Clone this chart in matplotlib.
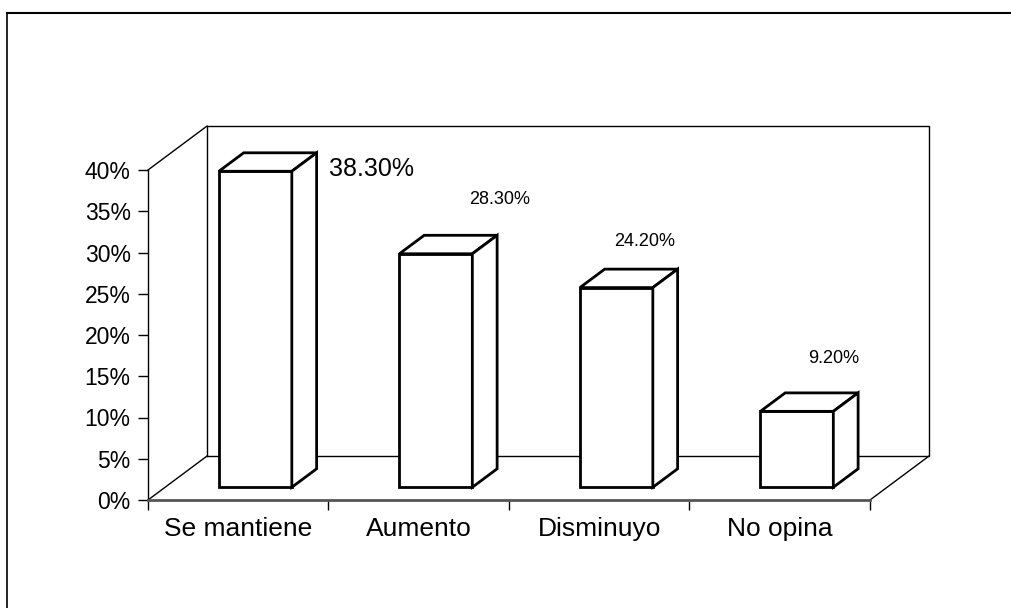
import matplotlib
matplotlib.use("Agg")
import matplotlib.pyplot as plt
from matplotlib.patches import Polygon
from matplotlib.lines import Line2D

# ---- data ----
categories = ["Se mantiene", "Aumento", "Disminuyo", "No opina"]
values = [38.3, 28.3, 24.2, 9.2]
value_labels = ["38.30%", "28.30%", "24.20%", "9.20%"]
y_ticks = [0, 5, 10, 15, 20, 25, 30, 35, 40]

# ---- layout / style (not data) ----
W, H = 1012, 608
DX, DY = 0.327, 5.33          # full depth offset of the 3-D box (data units)
F1, F2 = 0.29, 0.71           # bar front / back depth fractions
BAR_W = 0.404
label_offsets = [(0.74, 1.8), (0.45, 8.1), (0.25, 7.1), (0.30, 8.0)]
label_sizes = [18, 13, 13, 13]
FONT = "Liberation Sans"

plt.rcParams['font.family'] = [FONT, 'DejaVu Sans']

fig = plt.figure(figsize=(W / 100, H / 100), dpi=100)
ax = fig.add_axes([148 / W, 1 - 500 / H, (870 - 148) / W, (500 - 170) / H])
ax.set_xlim(0, len(categories))
ax.set_ylim(0, 40)
ax.patch.set_alpha(0)

n = len(categories)
ymax = y_ticks[-1]
lw_wall = 1.0
kw = dict(color="black", lw=lw_wall, clip_on=False, zorder=1)
# back wall
ax.plot([DX, DX, n + DX, n + DX, DX], [DY, ymax + DY, ymax + DY, DY, DY], **kw)
# side wall / floor diagonals
ax.plot([0, DX], [ymax, ymax + DY], **kw)
ax.plot([0, DX], [0, DY], **kw)
ax.plot([n, n + DX], [0, DY], **kw)

# bars
centers = [i + 0.5 for i in range(n)]
fx = [c + F1 * DX for c in centers]
ax.bar(fx, values, width=BAR_W, bottom=F1 * DY, color="white",
       edgecolor="black", linewidth=2, zorder=3, clip_on=False)
ddx = (F2 - F1) * DX
ddy = (F2 - F1) * DY
for x, v in zip(fx, values):
    xl, xr = x - BAR_W / 2, x + BAR_W / 2
    yb, yt = F1 * DY, v + F1 * DY
    top = Polygon([(xl, yt), (xr, yt), (xr + ddx, yt + ddy), (xl + ddx, yt + ddy)],
                  closed=True, facecolor="white", edgecolor="black", lw=2,
                  zorder=3, clip_on=False, joinstyle="miter")
    side = Polygon([(xr, yb), (xr + ddx, yb + ddy), (xr + ddx, yt + ddy), (xr, yt)],
                   closed=True, facecolor="white", edgecolor="black", lw=2,
                   zorder=3, clip_on=False, joinstyle="miter")
    ax.add_patch(top)
    ax.add_patch(side)

# data labels
for c, v, lab, (ox, oy), fs in zip(centers, values, value_labels, label_offsets, label_sizes):
    ax.text(c + ox, v + oy, lab, ha="center", va="center", fontsize=fs,
            color="black", zorder=5)

# axes styling
for s in ["top", "right"]:
    ax.spines[s].set_visible(False)
ax.spines["left"].set_color("black")
ax.spines["left"].set_linewidth(1.0)
ax.spines["bottom"].set_color("#555555")
ax.spines["bottom"].set_linewidth(2.0)
ax.spines["bottom"].set_zorder(4)

ax.set_yticks(y_ticks)
ax.set_yticklabels([f"{t}%" for t in y_ticks], fontsize=16.5)
ax.tick_params(axis="y", direction="out", length=7, width=1, pad=5.5, colors="black")
ax.set_xticks(range(n + 1))
ax.set_xticklabels([])
ax.tick_params(axis="x", which="major", direction="out", length=7, width=1)
ax.set_xticks(centers, minor=True)
ax.set_xticklabels(categories, minor=True, fontsize=19)
ax.tick_params(axis="x", which="minor", length=0, pad=12)

# outer chart-area frame
fig.add_artist(Line2D([7 / W, 1], [1 - 13 / H, 1 - 13 / H], transform=fig.transFigure,
                      color="black", lw=1.5))
fig.add_artist(Line2D([7 / W, 7 / W], [1 - 13 / H, 0], transform=fig.transFigure,
                      color="black", lw=1.2))

fig.savefig("out.png", dpi=100, facecolor="white")
